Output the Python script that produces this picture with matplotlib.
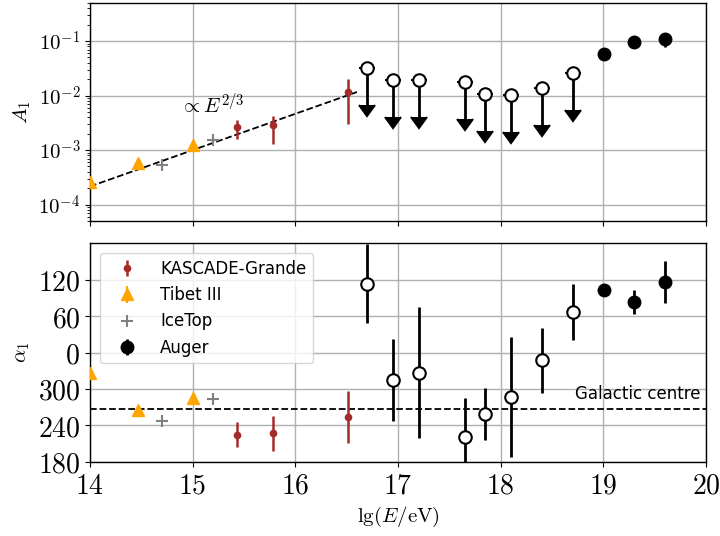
import numpy as np
import matplotlib
matplotlib.use("Agg")
import matplotlib.pyplot as plt
from matplotlib.ticker import FixedLocator, FuncFormatter, LogLocator, NullFormatter

plt.rcParams['mathtext.fontset'] = 'cm'
plt.rcParams['font.family'] = ['DejaVu Sans']

# ---------------- data ----------------
# Amplitude A1
kg_x = [15.43, 15.78, 16.51]
kg_A = [2.6e-3, 2.9e-3, 1.18e-2]
kg_A_lo = [1.0e-3, 1.6e-3, 8.8e-3]
kg_A_hi = [0.9e-3, 1.4e-3, 8.0e-3]

tibet_x = [14.0, 14.47, 15.0]
tibet_A = [2.6e-4, 5.9e-4, 1.26e-3]
tibet_A_err = [1.5e-5, 3e-5, 6e-5]

ice_x = [14.70, 15.20]
ice_A = [5.4e-4, 1.5e-3]

augerUL_x = [16.70, 16.95, 17.20, 17.65, 17.85, 18.10, 18.40, 18.70]
augerUL_A = [0.032, 0.0195, 0.0195, 0.0178, 0.0107, 0.0103, 0.0138, 0.0257]

auger_x = [19.01, 19.30, 19.60]
auger_A = [0.058, 0.096, 0.107]
auger_A_lo = [0.008, 0.010, 0.028]
auger_A_hi = [0.008, 0.010, 0.020]

# Phase alpha1 (degrees, 0..360)
kg_ph = [225, 227, 254]
kg_ph_err = [21, 29, 42]

tibet_ph = [326, 265, 286]
tibet_ph_err = [4, 5, 4]

ice_ph = [248, 284]

augerUL_ph = [113, 315, 327, 221, 259, 287, 347, 67]
augerUL_ph_err = [65, 68, 108, 64, 43, 99, 54, 46]

auger_ph = [103.5, 82.5, 115.6]
auger_ph_err = [6, 20, 35]

galactic_centre = 266.4

# fit line  A1 ∝ E^(2/3)
fit_x = [14.0, 16.6]
fit_norm = 2.15e-4

# ---------------- style ----------------
c_kg = '#a52a2a'
c_tibet = 'orange'
c_ice = 'gray'
c_auger = 'black'


def wrap(ph):
    ph = np.asarray(ph, dtype=float)
    return np.where(ph < 180, ph + 360, ph)


fig = plt.figure(figsize=(7.2, 5.36), dpi=100)
ax1 = fig.add_axes([0.125, 0.5877, 0.8556, 0.4067])
ax2 = fig.add_axes([0.125, 0.1381, 0.8556, 0.4085])

# ---------- top panel ----------
fx = np.array(fit_x)
ax1.plot(fx, fit_norm * 10 ** ((2.0 / 3.0) * (fx - fit_x[0])), 'k--', lw=1.3, zorder=2)

ax1.errorbar(tibet_x, tibet_A, yerr=tibet_A_err, fmt='^', color=c_tibet, ms=9, elinewidth=1.5, zorder=3)
ax1.errorbar(ice_x, ice_A, fmt='+', color=c_ice, ms=8, mew=1.5, zorder=3)
ax1.errorbar(kg_x, kg_A, yerr=[kg_A_lo, kg_A_hi], fmt='o', color=c_kg, ms=4.5, elinewidth=1.8, zorder=3)
ulA = np.array(augerUL_A)
ax1.errorbar(augerUL_x, augerUL_A, yerr=0.79 * ulA, uplims=True, fmt='o', color='black',
             mfc='white', ms=9, mew=1.5, elinewidth=2, capsize=5.5, zorder=3)
ax1.errorbar(auger_x, auger_A, yerr=[auger_A_lo, auger_A_hi], fmt='o', color=c_auger, ms=9,
             elinewidth=2, zorder=3)

ax1.text(14.88, 6.8e-3, r'$\propto E^{2/3}$', fontsize=15, ha='left', va='center')

ax1.set_yscale('log')
ax1.set_ylim(5e-5, 0.5)
ax1.set_xlim(14, 20)
ax1.yaxis.set_major_locator(FixedLocator([1e-4, 1e-3, 1e-2, 1e-1]))
ax1.yaxis.set_major_formatter(FuncFormatter(lambda v, p: r'$10^{%d}$' % int(round(np.log10(v)))))
ax1.yaxis.set_minor_locator(LogLocator(base=10, subs=np.arange(2, 10), numticks=20))
ax1.yaxis.set_minor_formatter(NullFormatter())
ax1.xaxis.set_major_locator(FixedLocator([14, 15, 16, 17, 18, 19, 20]))
ax1.tick_params(axis='x', labelbottom=False)
ax1.tick_params(axis='y', labelsize=15)
ax1.grid(True, color='#b0b0b0', lw=1)
ax1.set_axisbelow(True)
ax1.set_ylabel(r'$A_1$', fontsize=15)

# ---------- bottom panel ----------
ax2.axhline(galactic_centre, color='black', ls='--', lw=1.3, zorder=2)
ax2.text(19.95, 291, 'Galactic centre', fontsize=12, ha='right', va='center')

h_kg = ax2.errorbar(kg_x, wrap(kg_ph), yerr=kg_ph_err, fmt='o', color=c_kg, ms=4.5, elinewidth=1.8,
                    zorder=3, label='KASCADE-Grande')
h_tb = ax2.errorbar(tibet_x, wrap(tibet_ph), yerr=tibet_ph_err, fmt='^', color=c_tibet, ms=9,
                    elinewidth=1.5, zorder=3, label='Tibet III')
h_ice = ax2.errorbar(ice_x, wrap(ice_ph), fmt='+', color=c_ice, ms=8, mew=1.5, zorder=3, label='IceTop')
ax2.errorbar(augerUL_x, wrap(augerUL_ph), yerr=augerUL_ph_err, fmt='o', color='black', mfc='white',
             ms=9, mew=1.5, elinewidth=2, zorder=3)
h_au = ax2.errorbar(auger_x, wrap(auger_ph), yerr=auger_ph_err, fmt='o', color=c_auger, ms=9,
                    elinewidth=2, zorder=3, label='Auger')

ax2.set_xlim(14, 20)
ax2.set_ylim(180, 540)
ax2.yaxis.set_major_locator(FixedLocator([180, 240, 300, 360, 420, 480]))
ax2.yaxis.set_major_formatter(FuncFormatter(lambda v, p: r'$%d$' % (int(round(v)) % 360 if v > 180.5 else int(round(v)))))
ax2.xaxis.set_major_locator(FixedLocator([14, 15, 16, 17, 18, 19, 20]))
ax2.xaxis.set_major_formatter(FuncFormatter(lambda v, p: r'$%d$' % int(round(v))))
ax2.tick_params(labelsize=20)
ax2.grid(True, color='#b0b0b0', lw=1)
ax2.set_axisbelow(True)
ax2.set_ylabel(r'$\alpha_1$', fontsize=15)
ax2.set_xlabel(r'$\mathrm{lg}(E/\mathrm{eV})$', fontsize=15)

ax2.legend(handles=[h_kg, h_tb, h_ice, h_au], loc='upper left', fontsize=12, handlelength=2.4,
           borderaxespad=0.6, borderpad=0.4)

for ax in (ax1, ax2):
    for s in ax.spines.values():
        s.set_linewidth(1.0)

fig.savefig('out.png', dpi=100)
